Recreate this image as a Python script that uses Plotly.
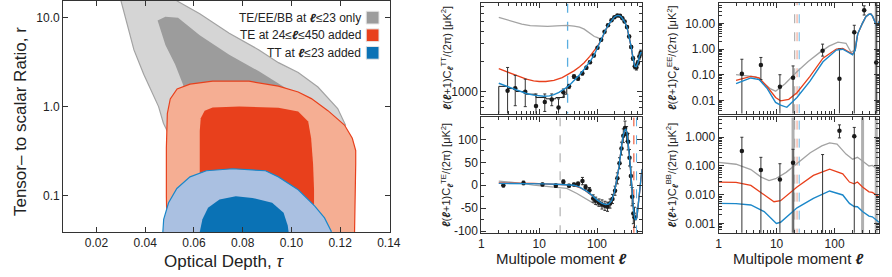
import plotly.graph_objects as go
import math

W, H = 892, 277

# ---------------- Left panel: tau - r constraint regions ----------------
gray_outer_tau = [0.029, 0.0301, 0.0321, 0.0354, 0.0394, 0.0430, 0.0455, 0.0475, 0.0495, 0.060, 0.090, 0.115, 0.1222, 0.1190, 0.1109, 0.1028, 0.0947, 0.0867, 0.0745, 0.0624, 0.0531, 0.054]
gray_outer_r   = [20.0, 15.4, 9.27, 4.34, 2.31, 1.39, 1.00, 0.65, 0.50, 0.40, 0.40, 0.45, 0.62, 0.95, 1.66, 2.42, 3.12, 4.34, 6.67, 11.06, 15.4, 20.0]

gray_inner_tau = [0.0451, 0.0483, 0.0535, 0.0624, 0.0745, 0.0867, 0.0980, 0.0980, 0.0564, 0.0556, 0.0523, 0.0483]
gray_inner_r   = [9.27, 10.25, 10.0, 6.34, 3.83, 2.49, 1.60, 1.00, 1.00, 1.75, 2.97, 4.92]

red_outer_tau = [0.0491, 0.0487, 0.0487, 0.0491, 0.0503, 0.0531, 0.0584, 0.0677, 0.0826, 0.0947, 0.1028, 0.1082, 0.1150, 0.1218, 0.1250, 0.1264, 0.1264, 0.1261, 0.1258, 0.1258]
red_outer_r   = [0.025, 0.098, 0.345, 0.837, 1.22, 1.58, 1.79, 1.93, 1.93, 1.70, 1.46, 1.23, 0.90, 0.62, 0.44, 0.32, 0.226, 0.098, 0.042, 0.025]

red_inner_tau = [0.0624, 0.0624, 0.0624, 0.0628, 0.0644, 0.0677, 0.0786, 0.0947, 0.1028, 0.1069, 0.1081, 0.1089, 0.1093, 0.1093]
red_inner_r   = [0.030, 0.178, 0.53, 0.74, 0.90, 0.98, 1.00, 0.97, 0.88, 0.68, 0.44, 0.226, 0.116, 0.030]

blue_outer_tau = [0.0468, 0.0472, 0.0476, 0.0496, 0.0530, 0.0584, 0.0651, 0.0759, 0.0894, 0.0947, 0.1028, 0.1096, 0.1136, 0.1163, 0.1170]
blue_outer_r   = [0.025, 0.039, 0.054, 0.083, 0.120, 0.162, 0.190, 0.200, 0.190, 0.162, 0.116, 0.076, 0.056, 0.040, 0.025]

blue_inner_tau = [0.0622, 0.0624, 0.0635, 0.0658, 0.0705, 0.0772, 0.0840, 0.0921, 0.0968, 0.0985, 0.0991]
blue_inner_r   = [0.030, 0.039, 0.054, 0.073, 0.090, 0.098, 0.094, 0.083, 0.064, 0.046, 0.035]

legend_labels = ["TE/EE/BB at <b><i>ℓ</i></b>≤23 only",
                 "TE at 24≤<b><i>ℓ</i></b>≤450 added",
                 "TT at <b><i>ℓ</i></b>≤23 added"]

# ---------------- TT spectrum ----------------
tt_common_ell = [120, 140, 160, 180, 200, 220, 240, 260, 280, 300, 330, 360, 390, 420, 450, 480, 510, 540, 570, 600]
tt_common_D   = [3300, 4100, 4700, 5200, 5550, 5720, 5750, 5600, 5350, 5000, 4400, 3600, 2800, 2150, 1800, 1780, 1950, 2250, 2450, 2450]

tt_blue_ell = [2, 3, 4, 5, 6, 8, 10, 12, 15, 18, 22, 26, 30, 35, 40, 50, 60, 70, 80, 90, 100]
tt_blue_D   = [1220, 1120, 1050, 1000, 965, 930, 910, 905, 915, 940, 990, 1050, 1110, 1200, 1290, 1480, 1680, 1880, 2100, 2350, 2700]

tt_red_ell = [2, 3, 4, 6, 8, 10, 13, 18, 25, 32, 40, 50, 60, 75, 90, 100]
tt_red_D   = [1700, 1550, 1450, 1340, 1290, 1270, 1270, 1300, 1390, 1495, 1620, 1780, 1950, 2250, 2550, 2800]

tt_gray_ell = [2, 3, 4, 5, 7, 10, 14, 20, 30, 40, 50, 60, 70, 80, 90, 100, 110]
tt_gray_D   = [5500, 5150, 4850, 4700, 4550, 4470, 4470, 4520, 4570, 4500, 4400, 4200, 3950, 3700, 3550, 3480, 3400]

tt_black_step_ell = [2, 2, 2.84, 3.97, 5.9, 8.8, 13.1, 19.4, 27, 30]
tt_black_step_D   = [500, 1136, 1080, 1010, 950, 880, 855, 880, 950, 1110]

tt_pts_ell = [2.84, 3.85, 5.74, 8.8, 12.5, 16.5, 21.6, 26.2, 32.8, 40, 47, 55.7, 65.5, 75.6, 88, 102, 118, 135, 155, 178, 200, 225, 250, 275, 300, 330, 360, 390, 420, 450, 480, 510, 540, 570]
tt_pts_D   = [1030, 1086, 1007, 727, 794, 842, 700, 993, 1136, 1420, 1360, 1530, 1740, 1970, 2300, 2750, 3300, 3950, 4600, 5150, 5500, 5730, 5700, 5400, 5000, 4400, 3550, 2800, 2150, 1800, 1750, 1950, 2250, 2450]
tt_pts_hi  = [1750, 1460, 1340, 955, 955, 955, 855, 1070, 1190, 1480, 1420, 1590, 1800, 2030, 2370, 2820, 3380, 4030, 4690, 5240, 5590, 5830, 5800, 5500, 5100, 4500, 3650, 2890, 2240, 1900, 1850, 2050, 2380, 2600]
tt_pts_lo  = [100, 730, 715, 100, 640, 730, 100, 890, 1080, 1360, 1300, 1470, 1680, 1910, 2230, 2680, 3220, 3870, 4510, 5060, 5410, 5630, 5600, 5300, 4900, 4300, 3450, 2710, 2060, 1700, 1650, 1850, 2120, 2300]

tt_cut_ell = [31]

# ---------------- TE spectrum ----------------
te_blue_ell = [2, 3, 5, 8, 12, 20, 30, 40, 50, 60, 70, 80, 90, 100, 120, 140, 160, 180, 200, 220, 240, 260, 280, 300, 315, 330, 350, 370, 390, 410, 430, 450, 470, 490, 510, 540, 570, 600]
te_blue_D   = [4, 4, 4, 3.5, 3, 2, 1.5, 0, -4, -9, -15, -21, -27, -32, -39, -42, -41, -33, -15, 10, 40, 75, 105, 120, 122, 115, 90, 55, 15, -25, -55, -72, -76, -70, -50, -15, 15, 35]
te_red_ell = [2, 3, 5, 8, 12, 20, 30, 40, 50, 60, 70, 80, 90, 100, 120, 140]
te_red_D   = [5, 5, 4.5, 4, 3, 2, 1, -1, -5, -10, -16, -22, -28, -33, -39, -42]
te_gray_ell = [2, 3, 5, 8, 12, 20, 30, 45, 60, 80, 90, 100, 120, 140, 160, 180]
te_gray_D   = [9, 7, 4, 0, -2, -4, -7, -18, -28, -38, -41, -44, -47, -46, -42, -33]

te_pts_ell = [2.4, 5.35, 11.4, 19.4, 26.2, 32.8, 40, 47, 56, 63.5, 74, 86, 95, 108, 122, 137, 152, 168, 185, 205, 225, 245, 265, 285, 305, 325, 345, 365, 385, 405, 425, 445]
te_pts_D   = [0, 5, 1.5, -1, 7.6, -1, 1.5, 3, 9, -4, -11, -29, -34, -38, -42, -45, -47, -40, -30, -12, 15, 48, 80, 108, 125, 112, 95, 60, 20, -25, -62, -70]
te_pts_err = [4, 4, 3, 4, 4, 3, 3, 4, 8, 5, 6, 8, 8, 8, 10, 10, 10, 10, 10, 10, 12, 12, 14, 15, 15, 16, 18, 18, 20, 20, 22, 22]

te_cut_gray = [23]
te_cut_red = [434]
te_cut_blue = [483]

# ---------------- EE spectrum ----------------
ee_high_ell = [250, 300, 345, 390, 420, 450, 490, 526, 560, 600]
ee_high_D   = [3.9, 10, 18, 22.5, 23, 19, 13, 8.2, 9.5, 13]

ee_gray_ell = [2, 3.6, 4.4, 5.4, 7.9, 9.6, 14, 22.4, 35, 55.6, 80, 114, 157, 192, 218]
ee_gray_D   = [0.10, 0.086, 0.082, 0.056, 0.028, 0.023, 0.045, 0.13, 0.33, 0.74, 1.3, 1.86, 1.67, 0.74, 0.89]
ee_red_ell = [2, 3.6, 5, 6.9, 9.6, 11.7, 16.2, 22.4, 37.6, 63, 107, 138, 180, 204, 226]
ee_red_D   = [0.06, 0.086, 0.075, 0.034, 0.013, 0.0097, 0.011, 0.02, 0.086, 0.44, 1.0, 1.06, 0.74, 0.64, 0.9]
ee_blue_ell = [2, 3.6, 5, 6.9, 9.6, 11.7, 15, 18.6, 22.4, 37.6, 63, 107, 138, 180, 204, 226]
ee_blue_D   = [0.045, 0.075, 0.065, 0.029, 0.0084, 0.0066, 0.0054, 0.0084, 0.013, 0.056, 0.32, 0.91, 0.98, 0.7, 0.6, 0.9]

ee_pts_ell = [2.52, 5.36, 11.4, 19.2, 62, 121, 218, 323, 521]
ee_pts_D   = [0.11, 0.24, 0.034, 0.077, 0.86, 0.07, 4.5, 32, 0.3]
ee_pts_hi  = [0.40, 0.47, 0.10, 0.22, 1.55, 1.0, 8.4, 48, 1000]
ee_pts_lo  = [1e-5, 0.065, 1e-5, 1e-5, 0.53, 1e-5, 1e-5, 21, 1e-5]

ee_band_ell = [521]

# ---------------- BB spectrum ----------------
bb_gray_ell = [1, 2, 3.6, 5.4, 7.4, 9.6, 14.6, 22, 38, 60, 82, 110, 157, 204, 247, 302, 391, 447, 580]
bb_gray_D   = [0.133, 0.115, 0.075, 0.041, 0.031, 0.036, 0.06, 0.116, 0.29, 0.5, 0.64, 0.58, 0.26, 0.17, 0.2, 0.15, 0.10, 0.105, 0.069]
bb_red_ell = [1, 2, 3.6, 6.1, 9, 11.7, 22.5, 43, 82, 138, 180, 217, 247, 302, 391, 447, 580]
bb_red_D   = [0.0276, 0.027, 0.021, 0.0098, 0.0057, 0.0062, 0.0186, 0.047, 0.078, 0.053, 0.0276, 0.024, 0.0276, 0.0186, 0.0126, 0.012, 0.0085]
bb_blue_ell = [1, 2, 3.6, 6.1, 9.9, 11.7, 22.5, 43, 82, 138, 180, 217, 247, 302, 391, 447, 580]
bb_blue_D   = [0.005, 0.0049, 0.0044, 0.0026, 0.001, 0.0011, 0.0035, 0.0075, 0.0135, 0.0098, 0.005, 0.0039, 0.0038, 0.0026, 0.0018, 0.0017, 0.0011]

bb_pts_ell = [2.52, 5.36, 11.4, 19.2, 62, 121, 218]
bb_pts_D   = [0.33, 0.072, 0.034, 0.13, 1e-6, 1.68, 1.08]
bb_pts_hi  = [1.0, 0.2, 0.12, 0.38, 0.25, 2.7, 2.2]
bb_pts_lo  = [1e-6, 1e-6, 1e-6, 1e-6, 1e-6, 0.95, 1e-6]

bb_band_ell = [19.2, 303, 521]
ee_bb_cut_gray = [20.5]
ee_bb_cut_red = [22.5]
ee_bb_cut_blue = [24.5]

# ---------------- colours ----------------
C_GRAY_LT, C_GRAY_DK, C_GRAY_LINE = "#d5d5d5", "#9c9c9c", "#a3a3a3"
C_RED_LT, C_RED = "#f5ae93", "#e8401c"
C_BLUE_LT, C_BLUE, C_BLUE_LINE = "#aac0e1", "#0a72b5", "#1b87c9"
C_BLACK = "#1a1a1a"
FONT = "Liberation Sans, Arial, sans-serif"
NARROW = "Liberation Sans Narrow, Liberation Sans, Arial, sans-serif"

fig = go.Figure()


def fx(p):
    return p / W


def fy(p):
    return 1 - p / H


def region(x, y, fill, line_color=None, xa="x", ya="y"):
    fig.add_trace(go.Scatter(
        x=x, y=y, mode="lines", fill="toself", fillcolor=fill,
        line=dict(color=line_color or fill, width=1.2 if line_color else 0),
        xaxis=xa, yaxis=ya, showlegend=False, hoverinfo="skip"))


region(gray_outer_tau, gray_outer_r, C_GRAY_LT, C_GRAY_LINE)
region(gray_inner_tau, gray_inner_r, C_GRAY_DK)
region(red_outer_tau, red_outer_r, C_RED_LT, C_RED)
region(red_inner_tau, red_inner_r, C_RED)
region(blue_outer_tau, blue_outer_r, C_BLUE_LT, C_BLUE_LINE)
region(blue_inner_tau, blue_inner_r, C_BLUE)


def curve(x, y, color, xa, ya, width=1.3, dash=None, shape="linear"):
    fig.add_trace(go.Scatter(x=x, y=y, mode="lines",
                             line=dict(color=color, width=width, dash=dash, shape=shape),
                             xaxis=xa, yaxis=ya, showlegend=False, hoverinfo="skip"))


def vlines(ells, color, xa, ya, lo, hi, width=1.0, dash="dash"):
    xs, ys = [], []
    for e in ells:
        xs += [e, e, None]
        ys += [lo, hi, None]
    curve(xs, ys, color, xa, ya, width=width, dash=dash)


def points(x, y, hi, lo, xa, ya):
    fig.add_trace(go.Scatter(
        x=x, y=y, mode="markers",
        marker=dict(color=C_BLACK, size=4.5),
        error_y=dict(type="data", symmetric=False,
                     array=[h - v for h, v in zip(hi, y)],
                     arrayminus=[v - l for v, l in zip(y, lo)],
                     color="#333333", thickness=1, width=1.5),
        xaxis=xa, yaxis=ya, showlegend=False, hoverinfo="skip"))


# TT panel (x2, y2)
vlines(tt_cut_ell, "#5aaee0", "x2", "y2", 100, 100000, width=1.3)
curve(tt_gray_ell + tt_common_ell, tt_gray_D + tt_common_D, C_GRAY_LINE, "x2", "y2")
curve(tt_red_ell + tt_common_ell, tt_red_D + tt_common_D, C_RED, "x2", "y2")
curve(tt_black_step_ell, tt_black_step_D, C_BLACK, "x2", "y2", width=1.0, shape="hv")
points(tt_pts_ell, tt_pts_D, tt_pts_hi, tt_pts_lo, "x2", "y2")
curve(tt_blue_ell + tt_common_ell, tt_blue_D + tt_common_D, C_BLUE_LINE, "x2", "y2", width=1.4)

# TE panel (x3, y3)
vlines(te_cut_gray, "#a0a0a0", "x3", "y3", -500, 500)
vlines(te_cut_red, C_RED, "x3", "y3", -500, 500)
vlines(te_cut_blue, "#5aaee0", "x3", "y3", -500, 500)
curve(te_gray_ell + [e for e in te_blue_ell if e > 180], te_gray_D + [d for e, d in zip(te_blue_ell, te_blue_D) if e > 180], C_GRAY_LINE, "x3", "y3")
curve(te_red_ell + [e for e in te_blue_ell if e > 140], te_red_D + [d for e, d in zip(te_blue_ell, te_blue_D) if e > 140], C_RED, "x3", "y3")
points(te_pts_ell, te_pts_D, [v + e for v, e in zip(te_pts_D, te_pts_err)], [v - e for v, e in zip(te_pts_D, te_pts_err)], "x3", "y3")
curve(te_blue_ell, te_blue_D, C_BLUE_LINE, "x3", "y3", width=1.4)

# EE panel (x4, y4)
vlines(ee_band_ell, "#b0b0b0", "x4", "y4", 1e-6, 1e4, width=3, dash="solid")
vlines(ee_bb_cut_gray, "#a0a0a0", "x4", "y4", 1e-6, 1e4)
vlines(ee_bb_cut_red, "#f29c86", "x4", "y4", 1e-6, 1e4)
vlines(ee_bb_cut_blue, "#6ab4e2", "x4", "y4", 1e-6, 1e4)
curve(ee_gray_ell + ee_high_ell, ee_gray_D + ee_high_D, C_GRAY_LINE, "x4", "y4")
curve(ee_red_ell + ee_high_ell, ee_red_D + ee_high_D, C_RED, "x4", "y4")
points(ee_pts_ell, ee_pts_D, ee_pts_hi, ee_pts_lo, "x4", "y4")
curve(ee_blue_ell + ee_high_ell, ee_blue_D + ee_high_D, C_BLUE_LINE, "x4", "y4", width=1.4)

# BB panel (x5, y5)
vlines(bb_band_ell, "#b0b0b0", "x5", "y5", 1e-6, 1e4, width=3, dash="solid")
vlines(ee_bb_cut_gray, "#a0a0a0", "x5", "y5", 1e-6, 1e4)
vlines(ee_bb_cut_red, "#f29c86", "x5", "y5", 1e-6, 1e4)
vlines(ee_bb_cut_blue, "#6ab4e2", "x5", "y5", 1e-6, 1e4)
curve(bb_gray_ell, bb_gray_D, C_GRAY_LINE, "x5", "y5")
curve(bb_red_ell, bb_red_D, C_RED, "x5", "y5")
curve(bb_blue_ell, bb_blue_D, C_BLUE_LINE, "x5", "y5", width=1.4)
points(bb_pts_ell, bb_pts_D, bb_pts_hi, bb_pts_lo, "x5", "y5")

# ---------------- axes ----------------
axis_common = dict(showline=True, linecolor="#333333", linewidth=1, mirror="allticks",
                   ticks="inside", ticklen=5, tickcolor="#333333", showgrid=False,
                   zeroline=False, tickfont=dict(family=FONT, size=12, color="#222222"))

minor_log_ell = [2, 3, 4, 5, 6, 7, 8, 9, 20, 30, 40, 50, 60, 70, 80, 90, 200, 300, 400, 500]


def decades_minor(lo_exp, hi_exp):
    vals = []
    for k in range(lo_exp, hi_exp + 1):
        for m in range(2, 10):
            vals.append(m * 10 ** k)
    return vals


x_dom_l = [fx(61), fx(393)]
x_dom_m = [fx(486), fx(649)]
x_dom_r = [fx(727), fx(890)]
y_dom_top = [fy(115), fy(2)]
y_dom_bot = [fy(237), fy(119)]

tau_ticks = [0.02, 0.04, 0.06, 0.08, 0.10, 0.12, 0.14]
r_ticks = [0.1, 1.0, 10.0]
minor_style = dict(ticks="inside", ticklen=3, tickcolor="#333333")

fig.update_layout(
    width=W, height=H, margin=dict(l=0, r=0, t=0, b=0),
    paper_bgcolor="white", plot_bgcolor="white",
    xaxis=dict(domain=x_dom_l, anchor="y", range=[0.0063, 0.1404],
               tickvals=tau_ticks, ticktext=["%.2f" % t for t in tau_ticks], **axis_common),
    yaxis=dict(domain=[fy(236), 1.0], anchor="x", type="log",
               range=[math.log10(0.039), math.log10(15.4)],
               tickvals=r_ticks, ticktext=["%.1f" % t for t in r_ticks], **axis_common),
    xaxis2=dict(domain=x_dom_m, anchor="y2", type="log", range=[0, 2.775],
                tickvals=[1, 10, 100], showticklabels=False,
                minor=dict(tickvals=minor_log_ell, **minor_style), **axis_common),
    yaxis2=dict(domain=y_dom_top, anchor="x2", type="log",
                range=[math.log10(611), math.log10(7640)], tickvals=[1000], ticktext=["1000"],
                minor=dict(tickvals=[700, 800, 900, 2000, 3000, 4000, 5000, 6000, 7000], **minor_style),
                **axis_common),
    xaxis3=dict(domain=x_dom_m, anchor="y3", type="log", range=[0, 2.775],
                tickvals=[1, 10, 100], ticktext=["1", "10", "100"],
                minor=dict(tickvals=minor_log_ell, **minor_style), **axis_common),
    yaxis3=dict(domain=y_dom_bot, anchor="x3", range=[-104, 148],
                tickvals=[-100, -50, 0, 50, 100], ticktext=["-100", "-50", "0", "50", "100"],
                minor=dict(tickvals=[-75, -25, 25, 75, 125], **minor_style),
                **axis_common),
    xaxis4=dict(domain=x_dom_r, anchor="y4", type="log", range=[0, 2.765],
                tickvals=[1, 10, 100], showticklabels=False,
                minor=dict(tickvals=minor_log_ell, **minor_style), **axis_common),
    yaxis4=dict(domain=y_dom_top, anchor="x4", type="log",
                range=[math.log10(0.0031), math.log10(62)],
                tickvals=[0.01, 0.1, 1, 10], ticktext=["0.01", "0.10", "1.00", "10.00"],
                minor=dict(tickvals=decades_minor(-3, 1), **minor_style),
                **axis_common),
    xaxis5=dict(domain=x_dom_r, anchor="y5", type="log", range=[0, 2.765],
                tickvals=[1, 10, 100], ticktext=["1", "10", "100"],
                minor=dict(tickvals=minor_log_ell, **minor_style), **axis_common),
    yaxis5=dict(domain=y_dom_bot, anchor="x5", type="log",
                range=[math.log10(0.00047), math.log10(4.9)],
                tickvals=[0.001, 0.01, 0.1, 1], ticktext=["0.001", "0.010", "0.100", "1.000"],
                minor=dict(tickvals=decades_minor(-4, 0), **minor_style),
                **axis_common),
)

# ---------------- text ----------------
ann = []
L = "<b><i>ℓ</i></b>"


def add_text(x, y, text, size, angle=0, xanchor="center", family=FONT, color="#222222"):
    ann.append(dict(x=x, y=y, xref="paper", yref="paper", text=text, showarrow=False,
                    textangle=angle, xanchor=xanchor, yanchor="middle",
                    font=dict(family=family, size=size, color=color)))


add_text(fx(18), fy(123), "Tensor– to scalar Ratio, r", 17, angle=-90)
add_text(fx(225), fy(266), "Optical Depth, <i>τ</i>", 17)
add_text(fx(567), fy(263), "Multipole moment " + L, 15)
add_text(fx(808), fy(263), "Multipole moment " + L, 15)

ylab = L + "(" + L + "+1)C<sub>" + L + "</sub><sup>%s</sup>/(2π) [μK<sup>2</sup>]"
add_text(fx(451), fy(58), ylab % "TT", 11, angle=-90)
add_text(fx(451), fy(178), ylab % "TE", 11, angle=-90)
add_text(fx(680), fy(58), ylab % "EE", 11, angle=-90)
add_text(fx(680), fy(178), ylab % "BB", 11, angle=-90)

legend_colors = [C_GRAY_DK, C_RED, C_BLUE]
legend_rows = [17, 35, 53]
shapes = []
for lab, col, row in zip(legend_labels, legend_colors, legend_rows):
    add_text(fx(366), fy(row), lab, 12, xanchor="right", family=NARROW)
    shapes.append(dict(type="rect", xref="paper", yref="paper",
                       x0=fx(369), x1=fx(382), y0=fy(row + 6.5), y1=fy(row - 6.5),
                       fillcolor=col, line=dict(color="#e6e6e6", width=1)))

fig.update_layout(annotations=ann, shapes=shapes)

fig.write_html("out.html", config={"displayModeBar": False},
               post_script="document.body.style.margin='0';document.body.style.overflow='hidden';")
